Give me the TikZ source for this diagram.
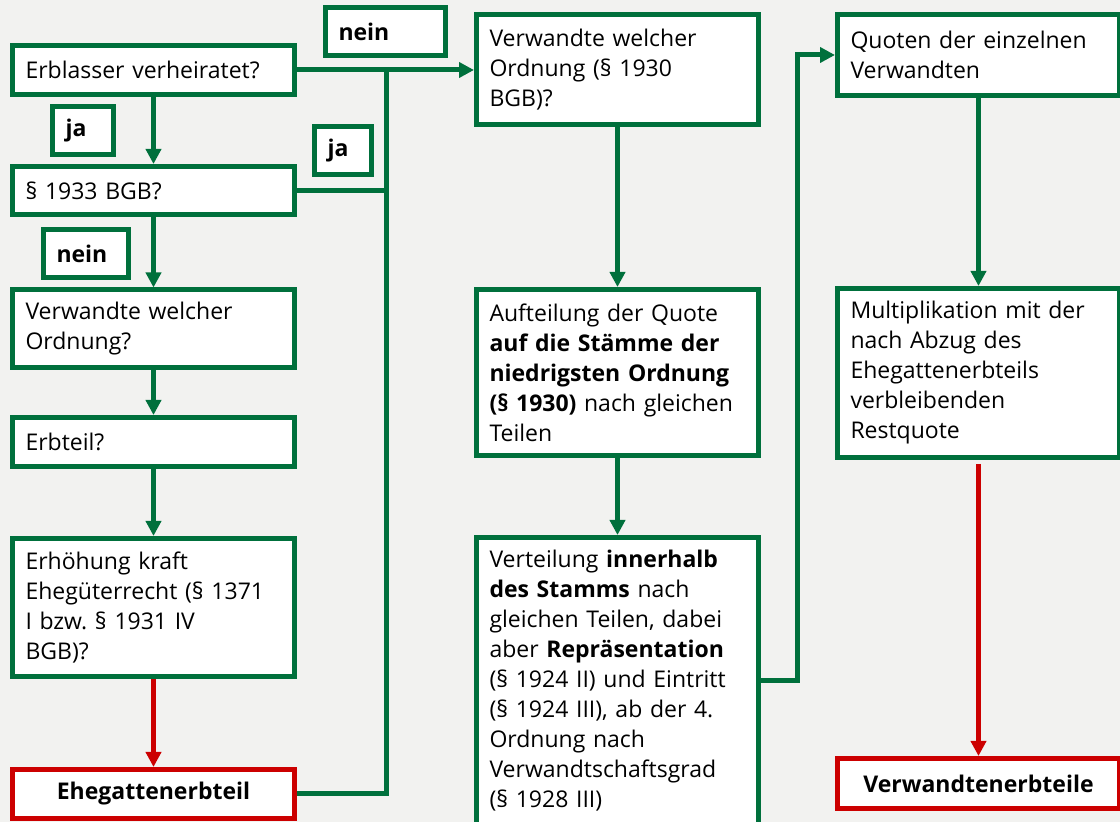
\documentclass[tikz,border=0pt]{standalone}
\usepackage{fontspec}
\setmainfont{Open Sans}
\usetikzlibrary{arrows.meta}
\pgfdeclarelayer{background}
\pgfdeclarelayer{foreground}
\pgfsetlayers{background,main,foreground}
\definecolor{grn}{RGB}{0,112,60}
\definecolor{rd}{RGB}{204,0,0}
\definecolor{paper}{RGB}{242,242,240}
\frenchspacing
\tikzset{
	box/.style={draw=grn, line width=2.5pt, fill=white, inner xsep=6.5pt, inner ysep=2pt,
		align=left, text width=128pt, font=\fontsize{11.5}{15}\selectfont},
	endbox/.style={box, draw=rd, align=center, font=\fontsize{11.5}{15}\selectfont\bfseries},
	tag/.style={draw=grn, line width=2.5pt, fill=white, inner xsep=6.5pt, inner ysep=2pt,
		align=left, minimum height=24pt, font=\fontsize{11.5}{15}\selectfont\bfseries},
	conn/.style={draw=grn, line width=2.5pt, -{Triangle[length=7.5pt,width=7.5pt]}},
	redconn/.style={conn, draw=rd},
	wire/.style={draw=grn, line width=2.5pt},
}

\begin{document}
\begin{tikzpicture}[x=0.5pt, y=-0.5pt]
	\useasboundingbox (0,0) rectangle (1120,822);
	\clip (0,0) rectangle (1120,822);

	% linke Spalte
	\node[box, minimum height=24.5pt] (verh) at (153.5,70) {Erblasser verheiratet?};
	\node[box, minimum height=24pt] (bgb) at (153.5,190.5) {§ 1933 BGB?};
	\node[box, minimum height=39pt] (ordn) at (153.5,329) {Verwandte welcher\\ Ordnung?};
	\node[box, minimum height=24.5pt] (erbt) at (153.5,442) {Erbteil?};
	\node[box, minimum height=69pt] (erhoeh) at (153.5,607.5)
		{Erhöhung kraft\\ Ehegüterrecht (§ 1371\\ I bzw. § 1931 IV\\ BGB)?};
	\node[endbox, minimum height=24.5pt] (ehe) at (153.5,794) {Ehegattenerbteil};

	% mittlere Spalte
	\node[box, minimum height=55pt] (ordnB) at (617.5,70)
		{Verwandte welcher\\ Ordnung (§ 1930\\ BGB)?};
	\node[box, minimum height=83pt] (stamm) at (617.5,372.5)
		{Aufteilung der Quote\\ \textbf{auf die Stämme der}\\ \textbf{niedrigsten Ordnung}\\
		\textbf{(§ 1930)} nach gleichen\\ Teilen};
	\node[box, minimum height=143.5pt] (vert) at (617.5,681)
		{Verteilung \textbf{innerhalb}\\ \textbf{des Stamms} nach\\ gleichen Teilen, dabei\\
		aber \textbf{Repräsentation}\\ (§ 1924 II) und Eintritt\\ (§ 1924 III), ab der 4.\\
		Ordnung nach\\ Verwandtschaftsgrad\\ (§ 1928 III)};

	% rechte Spalte
	\node[box, minimum height=40.5pt] (quot) at (978.5,55) {Quoten der einzelnen\\ Verwandten};
	\node[box, minimum height=84.5pt] (mult) at (978.5,373)
		{Multiplikation mit der\\ nach Abzug des\\ Ehegattenerbteils\\ verbleibenden\\ Restquote};
	\node[endbox, minimum height=25pt] (verw) at (978.5,783.5) {Verwandtenerbteile};

	% ja / nein
	\node[tag, text width=47pt] (lnein) at (385.5,31.5) {nein};
	\node[tag, text width=17.5pt] (lja) at (83,130.5) {ja};
	\node[tag, text width=15.5pt] (lja2) at (343,150.5) {ja};
	\node[tag, text width=29.5pt] (lnein2) at (86,253.5) {nein};

	\coordinate (knot) at (386,70);
	\coordinate (bend) at (797,55);

\begin{pgfonlayer}{background}
	\fill[paper] (0,0) rectangle (1120,822);
	\draw[conn] (verh.east) -- (ordnB.west);
	\draw[wire] (bgb.east) -- (bgb.east -| knot);
	\draw[wire] (ehe.east) -| (knot);
	\draw[conn] (verh) -- (bgb);
	\draw[conn] (bgb) -- (ordn);
	\draw[conn] (ordn) -- (erbt);
	\draw[conn] (erbt) -- (erhoeh);
	\draw[redconn] (erhoeh) -- (ehe);
	\draw[conn] (ordnB) -- (stamm);
	\draw[conn] (stamm) -- (vert);
	\draw[conn] (vert.east) -| (bend) -- (quot.west);
	\draw[conn] (quot) -- (mult);
	\draw[redconn, shorten <=2pt] (mult) -- (verw);
\end{pgfonlayer}

\end{tikzpicture}
\end{document}
